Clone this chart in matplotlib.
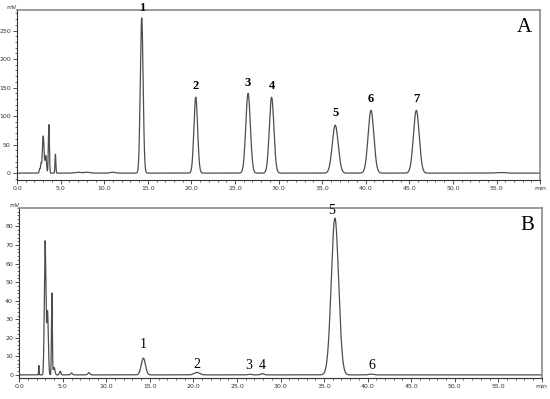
import numpy as np
import matplotlib
matplotlib.use("Agg")
import matplotlib.pyplot as plt
from matplotlib.ticker import MultipleLocator

# ---- Data ----
# Panel A: retention time (min), height (mV), width sigma (min)
a_rt = [2.6, 2.75, 3.0, 3.3, 3.65, 4.4, 7.0, 8.0, 11.0, 14.3, 20.5, 26.5, 29.2, 36.5, 40.6, 45.8, 55.5]
a_h = [8, 15, 65, 30, 85, 33, 1.5, 1.5, 1.5, 272, 133, 140, 133, 84, 110, 110, 1]
a_w = [0.06, 0.05, 0.1, 0.08, 0.06, 0.05, 0.3, 0.3, 0.3, 0.16, 0.21, 0.26, 0.26, 0.34, 0.33, 0.33, 0.5]
a_labels = ["1", "2", "3", "4", "5", "6", "7"]
a_label_rt = [14.3, 20.5, 26.5, 29.2, 36.5, 40.6, 45.8]
a_label_y = [279, 143, 148, 143, 94, 120, 120]

# Panel B
b_rt = [2.25, 2.97, 3.25, 3.75, 4.0, 4.7, 6.0, 8.0, 14.25, 20.4, 26.5, 27.9, 36.25, 40.4]
b_h = [5, 72, 34, 44, 4, 2, 1, 1.2, 9, 1.3, 0.3, 0.6, 84.5, 0.4]
b_w = [0.03, 0.09, 0.09, 0.05, 0.1, 0.08, 0.1, 0.12, 0.24, 0.32, 0.2, 0.2, 0.42, 0.25]
b_labels = ["1", "2", "3", "4", "5", "6"]
b_label_rt = [14.25, 20.4, 26.4, 27.9, 35.9, 40.5]
b_label_y = [13, 2.2, 1.5, 1.5, 85, 1.5]

x_ticks = [0, 5, 10, 15, 20, 25, 30, 35, 40, 45, 50, 55, 60]
x_ticklabels = ["0.0", "5.0", "10.0", "15.0", "20.0", "25.0", "30.0", "35.0", "40.0", "45.0", "50.0", "55.0", "min"]
a_yticks = [0, 50, 100, 150, 200, 250]
b_yticks = [0, 10, 20, 30, 40, 50, 60, 70, 80]


def trace(t, rts, hs, ws):
    y = np.zeros_like(t)
    for r, h, w in zip(rts, hs, ws):
        y += h * np.exp(-0.5 * ((t - r) / w) ** 2)
    return y


t = np.linspace(0, 60, 12001)
ya = trace(t, a_rt, a_h, a_w)
yb = trace(t, b_rt, b_h, b_w)

fig = plt.figure(figsize=(5.5, 3.99), dpi=100)
axA = fig.add_axes([0.031, 0.549, 0.951, 0.426])
axB = fig.add_axes([0.035, 0.053, 0.950, 0.426])

line_color = "#4d4d4d"
serif = "Liberation Serif"

for ax, y, ylim, yt, lab, lrt, ly, letter, lfs in [
    (axA, ya, (-12, 286), a_yticks, a_labels, a_label_rt, a_label_y, "A", 9),
    (axB, yb, (-1.6, 90), b_yticks, b_labels, b_label_rt, b_label_y, "B", 10),
]:
    ax.plot(t, y, color=line_color, lw=0.9)
    ax.set_xlim(0, 60)
    ax.set_ylim(*ylim)
    ax.set_xticks(x_ticks)
    ax.set_xticklabels(x_ticklabels)
    ax.xaxis.set_minor_locator(MultipleLocator(1))
    ax.set_yticks(yt)
    ax.set_yticklabels([str(v) for v in yt])
    ax.yaxis.set_minor_locator(MultipleLocator(yt[1] / 5))
    ax.tick_params(axis="both", which="major", labelsize=4.5, length=3, width=0.6,
                   colors="#333333", pad=1.5)
    ax.tick_params(axis="both", which="minor", length=1.5, width=0.5, colors="#333333")
    for s in ["top", "right"]:
        ax.spines[s].set_color("#8a8a8a")
        ax.spines[s].set_linewidth(1.2)
    for s in ["left", "bottom"]:
        ax.spines[s].set_color("#333333")
        ax.spines[s].set_linewidth(0.8)
    ax.text(0.0, 1.0, "mV", transform=ax.transAxes, fontsize=4.5, color="#333333",
            ha="right", va="bottom")
    for l, r, yy in zip(lab, lrt, ly):
        ax.text(r, yy, l, fontsize=lfs, family=serif, ha="center", va="bottom",
                fontweight="bold" if letter == "A" else "normal")
    ax.text(0.985, 0.955, letter, transform=ax.transAxes, fontsize=15, family=serif,
            ha="right", va="top")

fig.savefig("out.png", dpi=100)
